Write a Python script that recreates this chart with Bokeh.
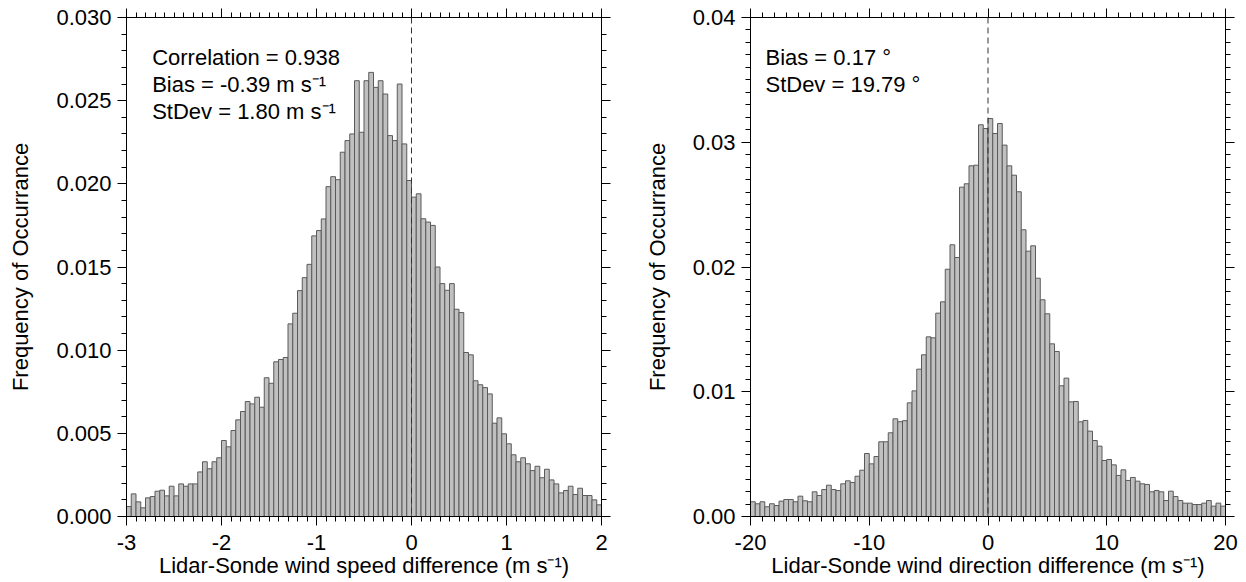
import numpy as np
from bokeh.plotting import figure
from bokeh.models import (Range1d, LinearAxis, FixedTicker, PrintfTickFormatter,
                          CustomJSTickFormatter, Span, Label)
from bokeh.layouts import row
from bokeh.embed import file_html
from bokeh.resources import INLINE

# ---------------- data ----------------
speed_range = (-3.0, 2.0)          # m/s, 100 bins of 0.05
speed_freq = [
    0.0006, 0.00136, 0.00088, 0.00052, 0.00112, 0.0012, 0.00152, 0.00158, 0.00124, 0.00182,
    0.00124, 0.00196, 0.00182, 0.00196, 0.00196, 0.00268, 0.00329, 0.00287, 0.00329, 0.00353,
    0.00457, 0.00419, 0.00517, 0.00581, 0.00631, 0.00691, 0.00677, 0.00717, 0.00657, 0.00834,
    0.00801, 0.0093, 0.00944, 0.00956, 0.01158, 0.01222, 0.01358, 0.01436, 0.01516, 0.01687,
    0.01719, 0.01789, 0.01983, 0.02043, 0.02025, 0.0219, 0.0226, 0.0230, 0.0262, 0.0231,
    0.0262, 0.0267, 0.0258, 0.0262, 0.0254, 0.0229, 0.0226, 0.0260, 0.0224, 0.0202,
    0.0192, 0.0194, 0.0179, 0.0177, 0.0175, 0.0150, 0.0140, 0.0136, 0.0140, 0.01246,
    0.01226, 0.00986, 0.00972, 0.00816, 0.00792, 0.00775, 0.00737, 0.00561, 0.00593, 0.00497,
    0.00437, 0.00371, 0.00329, 0.00353, 0.00317, 0.00276, 0.00302, 0.00233, 0.00284, 0.0022,
    0.00196, 0.00142, 0.00156, 0.00182, 0.00132, 0.0017, 0.00126, 0.00126, 0.001, 0.0007,
]

dir_range = (-20.0, 20.0)          # deg, 100 bins of 0.4
dir_freq = [
    0.00118, 0.00102, 0.00118, 0.00078, 0.00102, 0.00088, 0.00123, 0.00136, 0.00136, 0.00118,
    0.00163, 0.00126, 0.00118, 0.00198, 0.00168, 0.00216, 0.00251, 0.00216, 0.00208, 0.00262,
    0.00286, 0.00273, 0.00323, 0.00371, 0.00505, 0.00422, 0.00481, 0.00599, 0.00599, 0.00671,
    0.00783, 0.0076, 0.00768, 0.00911, 0.01007, 0.01181, 0.01296, 0.0144, 0.01432, 0.0163,
    0.01721, 0.01982, 0.02178, 0.02076, 0.0264, 0.02667, 0.02811, 0.02816, 0.0314, 0.0311,
    0.0319, 0.0307, 0.0315, 0.02977, 0.02811, 0.02736, 0.02603, 0.02298, 0.02127, 0.0217,
    0.0191, 0.01737, 0.01625, 0.01384, 0.01323, 0.01048, 0.01109, 0.00919, 0.00922, 0.00759,
    0.0077, 0.00684, 0.00609, 0.00564, 0.00449, 0.00457, 0.00414, 0.00329, 0.00374, 0.00289,
    0.00313, 0.00283, 0.00262, 0.00257, 0.00198, 0.00208, 0.00198, 0.00128, 0.00203, 0.0016,
    0.00128, 0.00107, 0.00107, 0.00096, 0.00096, 0.00107, 0.00128, 0.00083, 0.00107, 0.00083,
]

speed_xticks = [-3, -2, -1, 0, 1, 2]
speed_yticks = [0.000, 0.005, 0.010, 0.015, 0.020, 0.025, 0.030]
dir_xticks = [-20, -10, 0, 10, 20]
dir_yticks = [0.00, 0.01, 0.02, 0.03, 0.04]

speed_stats = ["Correlation = 0.938", "Bias = -0.39 m s\u207b\u00b9", "StDev = 1.80 m s\u207b\u00b9"]
dir_stats = ["Bias = 0.17 \u00b0", "StDev = 19.79 \u00b0"]

speed_xlabel = "Lidar-Sonde wind speed difference (m s\u207b\u00b9)"
dir_xlabel = "Lidar-Sonde wind direction difference (m s\u207b\u00b9)"
ylabel = "Frequency of Occurrance"

FONT = "Liberation Sans"
FS = "22px"


def style_axis(ax, show_labels):
    ax.axis_line_color = "black"
    ax.axis_line_width = 1
    ax.major_tick_line_color = "black"
    ax.minor_tick_line_color = "black"
    ax.major_tick_in = 0
    ax.major_tick_out = 9
    ax.minor_tick_in = 0
    ax.minor_tick_out = 5
    ax.major_label_text_font = FONT
    ax.major_label_text_font_size = FS
    ax.major_label_text_color = "black"
    ax.axis_label_text_font = FONT
    ax.axis_label_text_font_size = FS
    ax.axis_label_text_font_style = "normal"
    ax.axis_label_text_color = "black"
    if not show_labels:
        ax.formatter = CustomJSTickFormatter(code="return '';")
        ax.major_label_standoff = 0


def make_panel(freq, xr, ymax, xticks, xminor, yticks, yminor, yfmt, xlabel,
               stats, stat_x, stat_y, border_left, border_right, ylabel_standoff):
    p = figure(frame_width=475, frame_height=499,
               x_range=Range1d(*xr), y_range=Range1d(0, ymax),
               output_backend="svg", toolbar_location=None,
               x_axis_location=None, y_axis_location=None,
               min_border_left=border_left, min_border_right=border_right,
               min_border_top=17, min_border_bottom=62)
    p.grid.visible = False
    p.outline_line_color = "black"
    p.background_fill_color = "white"
    p.border_fill_color = "white"

    n = len(freq)
    edges = np.linspace(xr[0], xr[1], n + 1)
    p.quad(left=edges[:-1], right=edges[1:], bottom=0, top=freq,
           fill_color="#c0c0c0", line_color="#5a5a5a", line_width=1)

    xt = FixedTicker(ticks=xticks, minor_ticks=xminor)
    yt = FixedTicker(ticks=yticks, minor_ticks=yminor)

    bx = LinearAxis(ticker=xt, formatter=PrintfTickFormatter(format="%d"),
                    axis_label=xlabel)
    style_axis(bx, True)
    bx.major_label_standoff = 9
    bx.axis_label_standoff = 0
    p.add_layout(bx, "below")

    ly = LinearAxis(ticker=yt, formatter=PrintfTickFormatter(format=yfmt),
                    axis_label=ylabel)
    style_axis(ly, True)
    ly.major_label_standoff = 6
    ly.axis_label_standoff = ylabel_standoff
    p.add_layout(ly, "left")

    tx = LinearAxis(ticker=xt)
    style_axis(tx, False)
    p.add_layout(tx, "above")

    ry = LinearAxis(ticker=yt)
    style_axis(ry, False)
    p.add_layout(ry, "right")

    p.add_layout(Span(location=0, dimension="height", line_color="#333333",
                      line_width=1, line_dash="6 4"))

    for txt, yy in zip(stats, stat_y):
        p.add_layout(Label(x=stat_x, y=yy, text=txt, text_font=FONT,
                           text_font_size=FS, text_baseline="middle",
                           text_color="black"))
    return p


speed_minor = [round(v, 2) for v in np.arange(-3.0, 2.0001, 0.1)]
speed_yminor = [round(v, 4) for v in np.arange(0.0, 0.0300001, 0.001)]
dir_minor = list(range(-20, 21))
dir_yminor = [round(v, 4) for v in np.arange(0.0, 0.0400001, 0.001)]

p1 = make_panel(speed_freq, speed_range, 0.030, speed_xticks, speed_minor,
                speed_yticks, speed_yminor, "%.3f", speed_xlabel,
                speed_stats, -2.73, [0.0276, 0.02597, 0.02435],
                126, 17, 20)
p2 = make_panel(dir_freq, dir_range, 0.04, dir_xticks, dir_minor,
                dir_yticks, dir_yminor, "%.2f", dir_xlabel,
                dir_stats, -18.74, [0.03679, 0.03463],
                132, 17, 20)

layout = row(p1, p2)
open("out.html", "w").write(file_html(layout, INLINE))
